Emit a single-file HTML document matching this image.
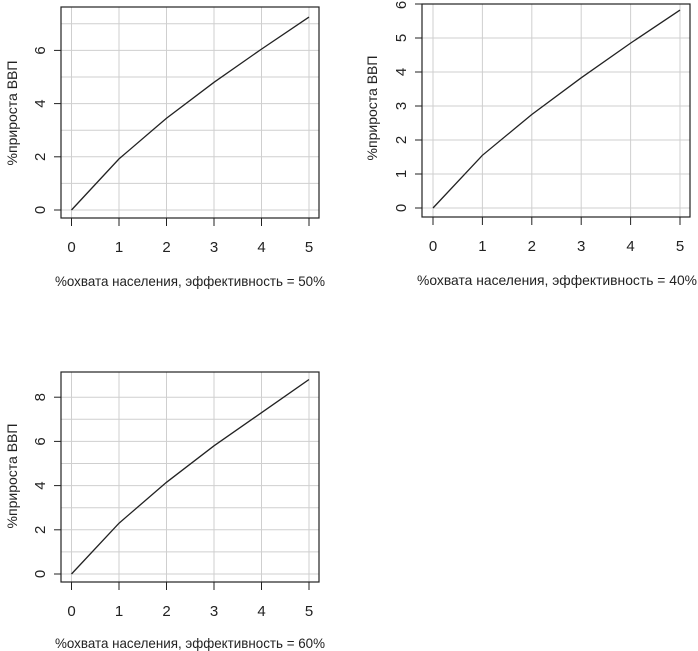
<!DOCTYPE html>
<html><head><meta charset="utf-8"><style>
body{margin:0;background:#fff}
svg{display:block}
text{font-family:"Liberation Sans",sans-serif;font-size:14px;fill:#222}
.n text{font-size:15px}
.g{stroke:#cfcfcf;stroke-width:1}
.b{fill:none;stroke:#222;stroke-width:1.2}
.t{stroke:#222;stroke-width:1}
.d{fill:none;stroke:#222;stroke-width:1.3}
</style></head><body>
<svg width="698" height="651" viewBox="0 0 698 651">
<!-- Panel 1 -->
<g>
<g class="g">
<line x1="71.5" y1="7" x2="71.5" y2="218"/><line x1="119" y1="7" x2="119" y2="218"/><line x1="166.5" y1="7" x2="166.5" y2="218"/><line x1="214" y1="7" x2="214" y2="218"/><line x1="261.5" y1="7" x2="261.5" y2="218"/><line x1="309" y1="7" x2="309" y2="218"/>
<line x1="61" y1="210" x2="319" y2="210"/><line x1="61" y1="183.4" x2="319" y2="183.4"/><line x1="61" y1="156.8" x2="319" y2="156.8"/><line x1="61" y1="130.2" x2="319" y2="130.2"/><line x1="61" y1="103.6" x2="319" y2="103.6"/><line x1="61" y1="77" x2="319" y2="77"/><line x1="61" y1="50.4" x2="319" y2="50.4"/><line x1="61" y1="23.8" x2="319" y2="23.8"/>
</g>
<rect class="b" x="61" y="7" width="258" height="211"/>
<polyline class="d" points="71.5,210 119,158.9 166.5,118.2 214,82.3 261.5,49.1 309,17.1"/>
<g class="t">
<line x1="71.5" y1="218" x2="71.5" y2="226"/><line x1="119" y1="218" x2="119" y2="226"/><line x1="166.5" y1="218" x2="166.5" y2="226"/><line x1="214" y1="218" x2="214" y2="226"/><line x1="261.5" y1="218" x2="261.5" y2="226"/><line x1="309" y1="218" x2="309" y2="226"/>
<line x1="54" y1="210" x2="61" y2="210"/><line x1="54" y1="156.8" x2="61" y2="156.8"/><line x1="54" y1="103.6" x2="61" y2="103.6"/><line x1="54" y1="50.4" x2="61" y2="50.4"/>
</g>
<g text-anchor="middle" class="n">
<text x="71.5" y="252">0</text><text x="119" y="252">1</text><text x="166.5" y="252">2</text><text x="214" y="252">3</text><text x="261.5" y="252">4</text><text x="309" y="252">5</text>
<text transform="translate(45,210) rotate(-90)">0</text><text transform="translate(45,156.8) rotate(-90)">2</text><text transform="translate(45,103.6) rotate(-90)">4</text><text transform="translate(45,50.4) rotate(-90)">6</text>
</g>
<g text-anchor="middle">
<text x="190" y="286" textLength="270" lengthAdjust="spacingAndGlyphs">%охвата населения, эффективность = 50%</text>
<text transform="translate(17,113) rotate(-90)">%прироста ВВП</text>
</g>
</g>
<!-- Panel 2 -->
<g>
<g class="g">
<line x1="433" y1="4" x2="433" y2="217"/><line x1="482.4" y1="4" x2="482.4" y2="217"/><line x1="531.8" y1="4" x2="531.8" y2="217"/><line x1="581.2" y1="4" x2="581.2" y2="217"/><line x1="630.6" y1="4" x2="630.6" y2="217"/><line x1="680" y1="4" x2="680" y2="217"/>
<line x1="422" y1="208" x2="690" y2="208"/><line x1="422" y1="174" x2="690" y2="174"/><line x1="422" y1="140" x2="690" y2="140"/><line x1="422" y1="106" x2="690" y2="106"/><line x1="422" y1="72" x2="690" y2="72"/><line x1="422" y1="38" x2="690" y2="38"/>
</g>
<rect class="b" x="422" y="4" width="268" height="213"/>
<polyline class="d" points="433,208 482.4,155.3 531.8,114.5 581.2,77.8 630.6,43.1 680,10.1"/>
<g class="t">
<line x1="433" y1="217" x2="433" y2="225"/><line x1="482.4" y1="217" x2="482.4" y2="225"/><line x1="531.8" y1="217" x2="531.8" y2="225"/><line x1="581.2" y1="217" x2="581.2" y2="225"/><line x1="630.6" y1="217" x2="630.6" y2="225"/><line x1="680" y1="217" x2="680" y2="225"/>
<line x1="415" y1="208" x2="422" y2="208"/><line x1="415" y1="174" x2="422" y2="174"/><line x1="415" y1="140" x2="422" y2="140"/><line x1="415" y1="106" x2="422" y2="106"/><line x1="415" y1="72" x2="422" y2="72"/><line x1="415" y1="38" x2="422" y2="38"/><line x1="415" y1="4" x2="422" y2="4"/>
</g>
<g text-anchor="middle" class="n">
<text x="433" y="251">0</text><text x="482.4" y="251">1</text><text x="531.8" y="251">2</text><text x="581.2" y="251">3</text><text x="630.6" y="251">4</text><text x="680" y="251">5</text>
<text transform="translate(406,208) rotate(-90)">0</text><text transform="translate(406,174) rotate(-90)">1</text><text transform="translate(406,140) rotate(-90)">2</text><text transform="translate(406,106) rotate(-90)">3</text><text transform="translate(406,72) rotate(-90)">4</text><text transform="translate(406,38) rotate(-90)">5</text><text transform="translate(406,5) rotate(-90)">6</text>
</g>
<g text-anchor="middle">
<text x="557" y="285" textLength="280" lengthAdjust="spacingAndGlyphs">%охвата населения, эффективность = 40%</text>
<text transform="translate(377,108) rotate(-90)">%прироста ВВП</text>
</g>
</g>
<!-- Panel 3 -->
<g>
<g class="g">
<line x1="71.5" y1="372" x2="71.5" y2="582"/><line x1="119" y1="372" x2="119" y2="582"/><line x1="166.5" y1="372" x2="166.5" y2="582"/><line x1="214" y1="372" x2="214" y2="582"/><line x1="261.5" y1="372" x2="261.5" y2="582"/><line x1="309" y1="372" x2="309" y2="582"/>
<line x1="61" y1="574" x2="319" y2="574"/><line x1="61" y1="551.9" x2="319" y2="551.9"/><line x1="61" y1="529.8" x2="319" y2="529.8"/><line x1="61" y1="507.7" x2="319" y2="507.7"/><line x1="61" y1="485.6" x2="319" y2="485.6"/><line x1="61" y1="463.5" x2="319" y2="463.5"/><line x1="61" y1="441.4" x2="319" y2="441.4"/><line x1="61" y1="419.3" x2="319" y2="419.3"/><line x1="61" y1="397.2" x2="319" y2="397.2"/>
</g>
<rect class="b" x="61" y="372" width="258" height="210"/>
<polyline class="d" points="71.5,574 119,523.2 166.5,482.3 214,445.8 261.5,412.7 309,379.5"/>
<g class="t">
<line x1="71.5" y1="582" x2="71.5" y2="590"/><line x1="119" y1="582" x2="119" y2="590"/><line x1="166.5" y1="582" x2="166.5" y2="590"/><line x1="214" y1="582" x2="214" y2="590"/><line x1="261.5" y1="582" x2="261.5" y2="590"/><line x1="309" y1="582" x2="309" y2="590"/>
<line x1="54" y1="574" x2="61" y2="574"/><line x1="54" y1="529.8" x2="61" y2="529.8"/><line x1="54" y1="485.6" x2="61" y2="485.6"/><line x1="54" y1="441.4" x2="61" y2="441.4"/><line x1="54" y1="397.2" x2="61" y2="397.2"/>
</g>
<g text-anchor="middle" class="n">
<text x="71.5" y="616">0</text><text x="119" y="616">1</text><text x="166.5" y="616">2</text><text x="214" y="616">3</text><text x="261.5" y="616">4</text><text x="309" y="616">5</text>
<text transform="translate(45,574) rotate(-90)">0</text><text transform="translate(45,529.8) rotate(-90)">2</text><text transform="translate(45,485.6) rotate(-90)">4</text><text transform="translate(45,441.4) rotate(-90)">6</text><text transform="translate(45,397.2) rotate(-90)">8</text>
</g>
<g text-anchor="middle">
<text x="190" y="648" textLength="270" lengthAdjust="spacingAndGlyphs">%охвата населения, эффективность = 60%</text>
<text transform="translate(17,476) rotate(-90)">%прироста ВВП</text>
</g>
</g>
</svg>
</body></html>
